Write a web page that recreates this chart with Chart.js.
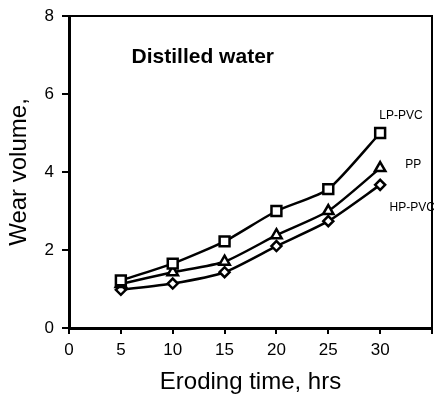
<!DOCTYPE html>
<html>
<head>
<meta charset="utf-8">
<script src="https://cdn.jsdelivr.net/npm/chart.js@4/dist/chart.umd.min.js"></script>
<style>
  html, body { margin: 0; padding: 0; background: #fff; }
  #wrap { width: 434px; height: 397px; }
</style>
</head>
<body>
<div id="wrap"><canvas id="grafico" width="434" height="397"></canvas></div>
<script>
// dados (horas de erosão vs volume de desgaste)
const horas = [5, 10, 15, 20, 25, 30];
const lpPvc = [1.22, 1.65, 2.22, 3.0, 3.56, 5.0];
const pp = [1.13, 1.43, 1.70, 2.38, 3.0, 4.1];
const hpPvc = [0.98, 1.14, 1.43, 2.1, 2.74, 3.67];
const nomes = ['LP-PVC', 'PP', 'HP-PVC'];
const ticksX = [0, 5, 10, 15, 20, 25, 30];
const ticksY = [0, 2, 4, 6, 8];

const fonte = "'Liberation Sans', Arial, sans-serif";

function pontos(valores) {
    return horas.map((h, i) => ({ x: h, y: valores[i] }));
}

function serie(nome, valores, estilo, raio) {
    return {
        label: nome,
        data: pontos(valores),
        borderColor: '#000',
        borderWidth: 2.5,
        tension: 0.2,
        pointStyle: estilo,
        pointRadius: raio,
        pointBackgroundColor: '#fff',
        pointBorderColor: '#000',
        pointBorderWidth: 2.5
    };
}

// caixa superior/direita e textos
const extras = {
    id: 'extras',
    afterDraw(chart) {
        const { ctx, chartArea: a, scales: { x, y } } = chart;
        ctx.save();
        ctx.strokeStyle = '#000';
        ctx.lineWidth = 2;
        ctx.beginPath();
        ctx.moveTo(a.left, a.top);
        ctx.lineTo(a.right, a.top);
        ctx.lineTo(a.right, a.bottom);
        ctx.stroke();

        ctx.fillStyle = '#000';
        ctx.textAlign = 'center';
        ctx.textBaseline = 'middle';
        ctx.font = 'bold 21px ' + fonte;
        ctx.fillText('Distilled water', x.getPixelForValue(12.9), y.getPixelForValue(6.95));

        ctx.font = '12px ' + fonte;
        const pos = [[32.0, 5.44], [33.2, 4.18], [33.1, 3.08]];
        nomes.forEach((n, i) => {
            ctx.fillText(n, x.getPixelForValue(pos[i][0]), y.getPixelForValue(pos[i][1]));
        });
        ctx.restore();
    }
};

function configurarGrafico() {
    const ctx = document.getElementById('grafico').getContext('2d');
    new Chart(ctx, {
        type: 'line',
        data: {
            datasets: [
                serie(nomes[0], lpPvc, 'rect', 7),
                serie(nomes[1], pp, 'triangle', 6),
                serie(nomes[2], hpPvc, 'rectRot', 5)
            ]
        },
        options: {
            responsive: false,
            animation: false,
            layout: { autoPadding: false, padding: { top: 16, right: 2, left: 0, bottom: 0 } },
            plugins: { legend: { display: false }, tooltip: { enabled: false } },
            scales: {
                x: {
                    type: 'linear',
                    min: 0,
                    max: 35,
                    afterBuildTicks: s => { s.ticks = ticksX.concat([35]).map(v => ({ value: v })); },
                    afterFit: s => { s.height = 69; s.paddingLeft = 0; s.paddingRight = 0; },
                    ticks: {
                        color: '#000',
                        font: { family: fonte, size: 17 },
                        padding: 6,
                        maxRotation: 0,
                        autoSkip: false,
                        callback: v => ticksX.includes(v) ? String(v) : ''
                    },
                    grid: { drawOnChartArea: false, drawTicks: true, tickLength: 6, color: '#000', lineWidth: 2 },
                    border: { color: '#000', width: 3 },
                    title: {
                        display: true,
                        text: 'Eroding time, hrs',
                        color: '#000',
                        font: { family: fonte, size: 24 },
                        padding: { top: 14, bottom: 0 }
                    }
                },
                y: {
                    min: 0,
                    max: 8,
                    afterBuildTicks: s => { s.ticks = ticksY.map(v => ({ value: v })); },
                    afterFit: s => { s.width = 69; s.paddingTop = 0; s.paddingBottom = 0; },
                    ticks: {
                        color: '#000',
                        font: { family: fonte, size: 17 },
                        padding: 8,
                        callback: v => String(v)
                    },
                    grid: { drawOnChartArea: false, drawTicks: true, tickLength: 7, color: '#000', lineWidth: 2 },
                    border: { color: '#000', width: 3 },
                    title: {
                        display: true,
                        text: 'Wear volume,',
                        color: '#000',
                        font: { family: fonte, size: 24 },
                        padding: { top: 5, bottom: 0 }
                    }
                }
            }
        },
        plugins: [extras]
    });
}

window.onload = function() {
    configurarGrafico();
};
</script>
</body>
</html>
